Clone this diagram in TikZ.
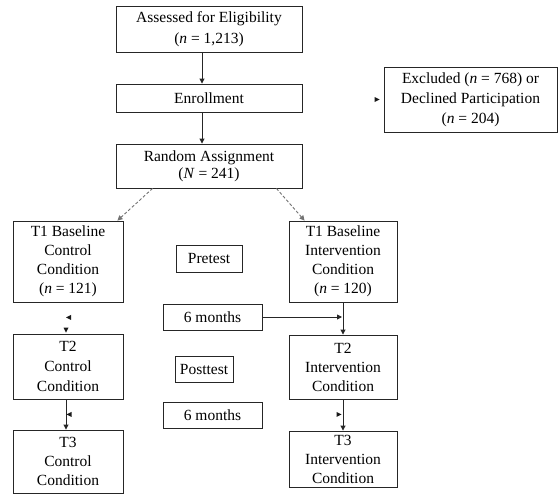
\documentclass[tikz,border=0pt]{standalone}
\usepackage{fontspec}
\setmainfont{Liberation Serif}
\usetikzlibrary{arrows.meta}
\begin{document}
\begin{tikzpicture}[x=1pt,y=-1pt,
  box/.style={draw=black!85, line width=0.9pt, align=center, inner sep=0pt,
              font=\fontsize{15.5}{19}\selectfont},
  conn/.style={draw=black!85, line width=0.9pt, -{Triangle[length=5pt,width=5pt]}},
  dconn/.style={conn, draw=black!55, dash pattern=on 3pt off 2pt},
  tipfill/.style={fill=black!90}]
\useasboundingbox (0,0) rectangle (559,495);

% boxes
\node[box, minimum width=186pt, minimum height=46pt, font=\fontsize{15.5}{21}\selectfont] (assess) at (209,29) {Assessed for Eligibility\\(\textit{n} = 1,213)};
\node[box, minimum width=186pt, minimum height=28pt] (enroll) at (209,98) {Enrollment};
\node[box, minimum width=186pt, minimum height=44pt, font=\fontsize{15.5}{17}\selectfont] (random) at (209,166) {Random Assignment\\(\textit{N} = 241)};
\node[box, minimum width=173pt, minimum height=65pt, font=\fontsize{15.5}{20}\selectfont] (excl) at (470.5,99.5) {Excluded (\textit{n} = 768) or\\Declined Participation\\(\textit{n} = 204)};

\node[box, minimum width=110pt, minimum height=81pt] (t1c) at (68,261.5) {T1 Baseline\\Control\\Condition\\(\textit{n} = 121)};
\node[box, minimum width=108pt, minimum height=81pt] (t1i) at (343,261.5) {T1 Baseline\\Intervention\\Condition\\(\textit{n} = 120)};
\node[box, minimum width=66pt, minimum height=27pt] (pre) at (209,258.5) {Pretest};
\node[box, minimum width=99pt, minimum height=26pt] (m1) at (212.5,317) {6 months};

\node[box, minimum width=110pt, minimum height=65pt, font=\fontsize{15.5}{20}\selectfont] (t2c) at (68,366.5) {T2\\Control\\Condition};
\node[box, minimum width=108pt, minimum height=64pt, font=\fontsize{15.5}{19}\selectfont] (t2i) at (343,367) {T2\\Intervention\\Condition};
\node[box, minimum width=58pt, minimum height=26pt] (post) at (204,369) {Posttest};
\node[box, minimum width=99pt, minimum height=26pt] (m2) at (212.5,415) {6 months};

\node[box, minimum width=110pt, minimum height=63pt, font=\fontsize{15.5}{19}\selectfont] (t3c) at (68,461.5) {T3\\Control\\Condition};
\node[box, minimum width=108pt, minimum height=56pt, font=\fontsize{15.5}{19}\selectfont] (t3i) at (343,459) {T3\\Intervention\\Condition};

% connectors
\draw[conn] ([xshift=-7pt]assess.south) -- ([xshift=-7pt]enroll.north);
\draw[conn] ([xshift=-7pt]enroll.south) -- ([xshift=-7pt]random.north);
\draw[dconn] ([xshift=37pt]random.south west) -- ([xshift=-6pt]t1c.north east);
\draw[dconn] ([xshift=-26pt]random.south east) -- ([xshift=16pt]t1i.north west);
\draw[conn] (t1i.south) -- (t2i.north);
\draw[conn] (m1.east) -- ([xshift=-1pt]m1.east -| t1i.south);
\draw[conn] ([xshift=-2pt]t2c.south) -- ([xshift=-2pt]t3c.north);
\draw[conn] (t2i.south) -- (t3i.north);

% stray arrowheads
\coordinate (sx) at ([xshift=-4pt]excl.west);
\fill[tipfill] (sx) -- ++(-5,-2.5) -- ++(0,5) -- cycle;
\coordinate (sa) at ([xshift=-2pt,yshift=-15pt]t1c.south);
\fill[tipfill] (sa) -- ++(5,-2.5) -- ++(0,5) -- cycle;
\coordinate (sb) at ([xshift=-2pt,yshift=1pt]t2c.north);
\fill[tipfill] (sb) -- ++(-2.5,-5) -- ++(5,0) -- cycle;
\coordinate (sc) at ([xshift=-1.5pt,yshift=-15pt]t2c.south);
\fill[tipfill] (sc) -- ++(5,-2.5) -- ++(0,5) -- cycle;
\coordinate (sd) at ([xshift=-1.5pt,yshift=-15pt]t2i.south);
\fill[tipfill] (sd) -- ++(-5,-2.5) -- ++(0,5) -- cycle;
\end{tikzpicture}
\end{document}
